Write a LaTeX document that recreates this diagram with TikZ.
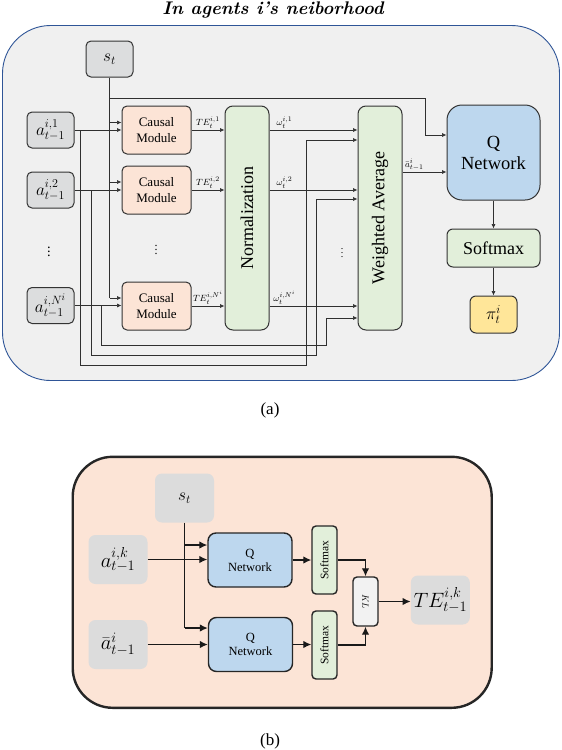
\documentclass[tikz,border=0pt]{standalone}
\usepackage{fontspec}
\setmainfont{Liberation Serif}
\usetikzlibrary{arrows.meta,calc}
\definecolor{outerfill}{HTML}{F0F0F0}
\definecolor{outerline}{HTML}{2F5597}
\definecolor{gfill}{HTML}{DCDDDE}
\definecolor{boxline}{HTML}{333333}
\definecolor{cmfill}{HTML}{FCE4D6}
\definecolor{gnfill}{HTML}{E2EFDA}
\definecolor{qfill}{HTML}{BDD7EE}
\definecolor{pifill}{HTML}{FFE699}
\definecolor{wirec}{HTML}{303030}
\definecolor{bgfill}{HTML}{DCDCDC}
\definecolor{klfill}{HTML}{F2F2F2}
\tikzset{
  box/.style={draw=boxline, line width=1pt, rounded corners=5pt, inner sep=0pt, align=center},
  gbox/.style={box, fill=gfill, minimum width=47pt, minimum height=36pt, font=\fontsize{17.28}{17.28}\selectfont},
  cmbox/.style={box, fill=cmfill, minimum width=69pt, minimum height=48pt, font=\fontsize{13}{15.5}\selectfont},
  tallbox/.style={box, fill=gnfill, minimum width=44pt, minimum height=224pt, rounded corners=8pt, font=\fontsize{18}{18}\selectfont},
  wire/.style={draw=wirec, line width=0.7pt},
  arr/.style={wire, -{Latex[length=4.5pt,width=4pt]}},
  lbl/.style={font=\fontsize{9.5}{9.5}\selectfont, inner sep=1.2pt},
  bbox/.style={draw=black!85, line width=1.4pt, rounded corners=6pt, inner sep=0pt, align=center},
  softbox/.style={fill=bgfill, rounded corners=7pt, inner sep=0pt, minimum width=59pt, minimum height=49pt, font=\fontsize{20.74}{20.74}\selectfont},
  bwire/.style={draw=black!90, line width=1.3pt},
  barr/.style={bwire, -{Latex[length=8pt,width=7.5pt]}},
  titlefont/.style={font=\fontsize{18.3}{18.3}\fontfamily{lmr}\fontseries{bx}\fontshape{it}\selectfont}
}
\begin{document}
\begin{tikzpicture}[x=1pt,y=-1pt]
\useasboundingbox (0,0) rectangle (562,750);
% ---------------- (a) ----------------
\node[titlefont] (ttl) at (273,10) {In agents i's neiborhood};
\node[draw=outerline, fill=outerfill, line width=0.9pt, rounded corners=48pt, minimum width=557pt, minimum height=355pt, inner sep=0pt] (outerA) at (281,203) {};
\node[gbox] (st) at (109.5,59) {$s_t$};
\node[gbox] (a1) at (50.5,130) {$a_{t-1}^{i,1}$};
\node[gbox] (a2) at (50.5,190) {$a_{t-1}^{i,2}$};
\node (adots) at (49,249) {\fontsize{14.4}{14.4}\selectfont$\vdots$};
\node[gbox] (aN) at (50.5,305.5) {$a_{t-1}^{i,N^i}$};
\node[cmbox] (cm1) at (156.5,130) {Causal\\Module};
\node[cmbox] (cm2) at (156.5,190) {Causal\\Module};
\node (cmdots) at (156,247) {\fontsize{12}{12}\selectfont$\vdots$};
\node[cmbox] (cm3) at (156.5,306) {Causal\\Module};
\node[tallbox] (norm) at (247,218) {\rotatebox{90}{Normalization}};
\node[tallbox] (wa) at (380,218) {\rotatebox{90}{Weighted Average}};
\node (wadots) at (342,250) {\fontsize{10}{10}\selectfont$\vdots$};
\node[box, fill=qfill, minimum width=93pt, minimum height=95pt, rounded corners=15pt, font=\fontsize{18.5}{21}\selectfont] (q) at (493.5,152.5) {Q\\Network};
\node[box, fill=gnfill, minimum width=93pt, minimum height=38pt, rounded corners=6pt, font=\fontsize{18}{18}\selectfont] (sm) at (493.5,248) {Softmax};
\node[box, fill=pifill, minimum width=47pt, minimum height=37pt, rounded corners=6pt, font=\fontsize{17.28}{17.28}\selectfont] (pi) at (493.5,314.5) {$\pi_t^i$};
% s_t wiring
\coordinate (c1s) at ($(cm1.west)+(0,-7.5)$);
\coordinate (c2s) at ($(cm2.west)+(0,-8)$);
\coordinate (c3s) at ($(cm3.west)+(0,-8)$);
\draw[wire] (st.south) -- (st.south |- c3s);
\draw[arr] (st.south |- c1s) -- (c1s);
\draw[arr] (st.south |- c2s) -- (c2s);
\draw[arr] (st.south |- c3s) -- (c3s);
\coordinate (qs) at ($(q.west)+(0,-17.5)$);
\draw[arr] (st.south) |- (425,98) |- (qs);
% a -> causal modules
\draw[arr] (a1.east) -- (cm1.west |- a1.east);
\draw[arr] (a2.east) -- (cm2.west |- a2.east);
\draw[arr] (aN.east) -- (cm3.west |- aN.east);
% a -> weighted average
\coordinate (w1) at ($(wa.west)+(0,-78)$);
\coordinate (w2) at ($(wa.west)+(0,-19)$);
\coordinate (w3) at ($(wa.west)+(0,100)$);
\draw[arr] (80,130) |- (306,365) |- (w1);
\draw[arr] (91,190) |- (316.7,355) |- (w2);
\draw[arr] (101,305.5) |- (326.7,345) |- (w3);
% causal -> normalization
\draw[arr] (cm1.east) -- (norm.west |- cm1.east) node[lbl, above, midway] {$TE_t^{i,1}$};
\draw[arr] (cm2.east) -- (norm.west |- cm2.east) node[lbl, above, midway] {$TE_t^{i,2}$};
\draw[arr] (cm3.east) -- (norm.west |- cm3.east) node[lbl, above, midway] {$TE_t^{i,N^i}$};
% normalization -> weighted average
\draw[arr] (norm.east |- cm1.east) -- (wa.west |- cm1.east) node[lbl, above, pos=0.17] {$\omega_t^{i,1}$};
\draw[arr] (norm.east |- cm2.east) -- (wa.west |- cm2.east) node[lbl, above, pos=0.17] {$\omega_t^{i,2}$};
\draw[arr] (norm.east |- cm3.east) -- (wa.west |- cm3.east) node[lbl, above, pos=0.17] {$\omega_t^{i,N^i}$};
% weighted average -> Q
\coordinate (qin) at ($(q.west)+(0,19.5)$);
\draw[arr] (wa.east |- qin) -- (qin) node[lbl, above, pos=0.27] {$\bar{a}_{t-1}^{i}$};
\draw[arr] (q.south) -- (sm.north);
\draw[arr] (sm.south) -- (pi.north);
\node[font=\fontsize{17}{17}\selectfont] (capa) at (270,410) {(a)};
% ---------------- (b) ----------------
\node[draw=black!85, fill=cmfill, line width=2.4pt, rounded corners=40pt, minimum width=419pt, minimum height=251pt, inner sep=0pt] (outerB) at (282.2,582.3) {};
\node[softbox, font=\fontsize{17.28}{17.28}\selectfont] (st2) at (184.5,498) {$s_t$};
\node[softbox] (ak) at (118,559.5) {$a_{t-1}^{i,k}$};
\node[softbox] (abar) at (118,644.5) {$\bar{a}_{t-1}^{i}$};
\node[softbox] (te) at (440.3,600) {$TE_{t-1}^{i,k}$};
\node[bbox, fill=qfill, minimum width=84pt, minimum height=54pt, rounded corners=8pt, font=\fontsize{12.5}{14}\selectfont] (q1) at (250,560) {Q\\Network};
\node[bbox, fill=qfill, minimum width=84pt, minimum height=54pt, rounded corners=8pt, font=\fontsize{12.5}{14}\selectfont] (q2) at (250.5,644.5) {Q\\Network};
\node[bbox, fill=gnfill, minimum width=25pt, minimum height=68pt, rounded corners=4pt, font=\fontsize{11.5}{11.5}\selectfont] (s1) at (324.5,560) {\rotatebox{90}{Softmax}};
\node[bbox, fill=gnfill, minimum width=25pt, minimum height=68pt, rounded corners=4pt, font=\fontsize{11.5}{11.5}\selectfont] (s2) at (324.5,645) {\rotatebox{90}{Softmax}};
\node[bbox, fill=klfill, minimum width=25pt, minimum height=49pt, rounded corners=4pt, font=\fontsize{9}{9}\selectfont] (kl) at (365.5,601.5) {\rotatebox{-90}{$KL$}};
\coordinate (q1s) at ($(q1.west)+(0,-15)$);
\coordinate (q2s) at ($(q2.west)+(0,-16.5)$);
\draw[bwire] (st2.south) -- (st2.south |- q2s);
\draw[barr] (st2.south |- q1s) -- (q1s);
\draw[barr] (st2.south |- q2s) -- (q2s);
\draw[barr] (ak.east) -- (q1.west |- ak.east);
\draw[barr] (abar.east) -- (q2.west |- abar.east);
\draw[barr] (q1.east) -- (s1.west |- q1.east);
\draw[barr] (q2.east) -- (s2.west |- q2.east);
\draw[barr] (s1.east) -| (kl.north);
\draw[barr] (s2.east) -| (kl.south);
\draw[barr] (kl.east) -- (te.west |- kl.east);
\node[font=\fontsize{17}{17}\selectfont] (capb) at (270,741) {(b)};
\end{tikzpicture}
\end{document}
